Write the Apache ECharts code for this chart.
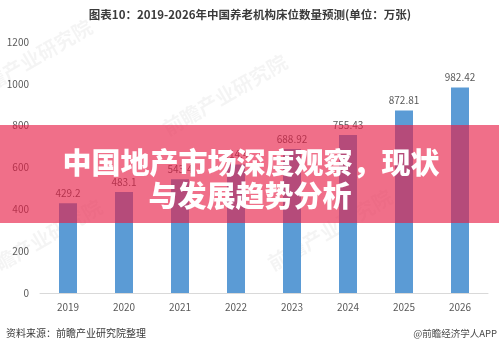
<!DOCTYPE html>
<html>
<head>
<meta charset="utf-8">
<script src="https://cdn.jsdelivr.net/npm/echarts@6/dist/echarts.min.js"></script>
<style>
  html, body { margin: 0; padding: 0; background: #fff; }
  #chart { width: 499px; height: 348px; }
</style>
</head>
<body>
<div id="chart"></div>
<script>
// Years and bed counts (10k beds)
const years = ['2019', '2020', '2021', '2022', '2023', '2024', '2025', '2026'];
const beds = [429.2, 483.1, 543.4, 614.4, 688.92, 755.43, 872.81, 982.42];
const yTicks = [0, 200, 400, 600, 800, 1000, 1200];

const titleText = '图表10：2019-2026年中国养老机构床位数量预测(单位：万张)';
const bannerLines = ['中国地产市场深度观察，现状', '与发展趋势分析'];
const sourceText = '资料来源：前瞻产业研究院整理';
const brandText = '@前瞻经济学人APP';
const markText = '前瞻产业研究院';

const CJK = '"Noto Sans CJK SC", "Noto Sans", sans-serif';

const chart = echarts.init(document.getElementById('chart'), null, { renderer: 'canvas' });

// faint diagonal brand marks behind the plot
const marks = [[30, 60], [225, 95], [40, 240], [330, 230]].map(([x, y]) => ({
  type: 'text',
  x: x, y: y,
  rotation: Math.PI / 6,
  z: 1,
  style: {
    text: markText,
    fill: 'rgba(0,0,0,0.045)',
    font: 'bold 20px ' + CJK,
    align: 'center',
    verticalAlign: 'middle'
  }
}));

chart.setOption({
  animation: false,
  grid: { left: 40, right: 11, top: 42, bottom: 55, containLabel: false },
  xAxis: {
    type: 'category',
    data: years,
    axisLine: { lineStyle: { color: '#d9d9d9', width: 1 } },
    axisTick: { show: false },
    axisLabel: { color: '#595959', fontSize: 10, margin: 9, fontFamily: CJK }
  },
  yAxis: {
    type: 'value',
    min: yTicks[0],
    max: yTicks[yTicks.length - 1],
    interval: yTicks[1] - yTicks[0],
    axisLine: { show: false },
    axisTick: { show: false },
    splitLine: { show: false },
    axisLabel: {
      color: '#595959', fontSize: 10, margin: 11, fontFamily: CJK,
      formatter: (v) => String(v)
    }
  },
  series: [{
    type: 'bar',
    data: beds,
    barWidth: 18,
    itemStyle: { color: '#5b9bd5' },
    label: {
      show: true,
      position: 'top',
      distance: 5,
      color: '#595959',
      fontSize: 10,
      fontFamily: CJK
    }
  }],
  graphic: marks.concat([
    {
      type: 'text',
      x: 250, y: 15,
      z: 50,
      style: {
        text: titleText,
        fill: '#3a3a3a',
        font: 'bold 11.5px ' + CJK,
        align: 'center',
        verticalAlign: 'middle'
      }
    },
    {
      type: 'rect',
      shape: { x: 0, y: 125, width: 499, height: 98 },
      z: 100,
      style: { fill: 'rgba(232,30,70,0.64)' }
    },
    {
      type: 'text',
      x: 251, y: 163,
      z: 101,
      style: {
        text: bannerLines[0],
        fill: '#ffffff',
        font: '900 29px ' + CJK,
        align: 'center',
        verticalAlign: 'middle'
      }
    },
    {
      type: 'text',
      x: 250, y: 196,
      z: 101,
      style: {
        text: bannerLines[1],
        fill: '#ffffff',
        font: '900 29px ' + CJK,
        align: 'center',
        verticalAlign: 'middle'
      }
    },
    {
      type: 'text',
      x: 6, y: 333,
      z: 50,
      style: {
        text: sourceText,
        fill: '#3a3a3a',
        font: '10px ' + CJK,
        align: 'left',
        verticalAlign: 'middle'
      }
    },
    {
      type: 'text',
      x: 497, y: 333,
      z: 50,
      style: {
        text: brandText,
        fill: '#4a4a4a',
        font: '9.5px ' + CJK,
        align: 'right',
        verticalAlign: 'middle'
      }
    }
  ])
});
</script>
</body>
</html>
